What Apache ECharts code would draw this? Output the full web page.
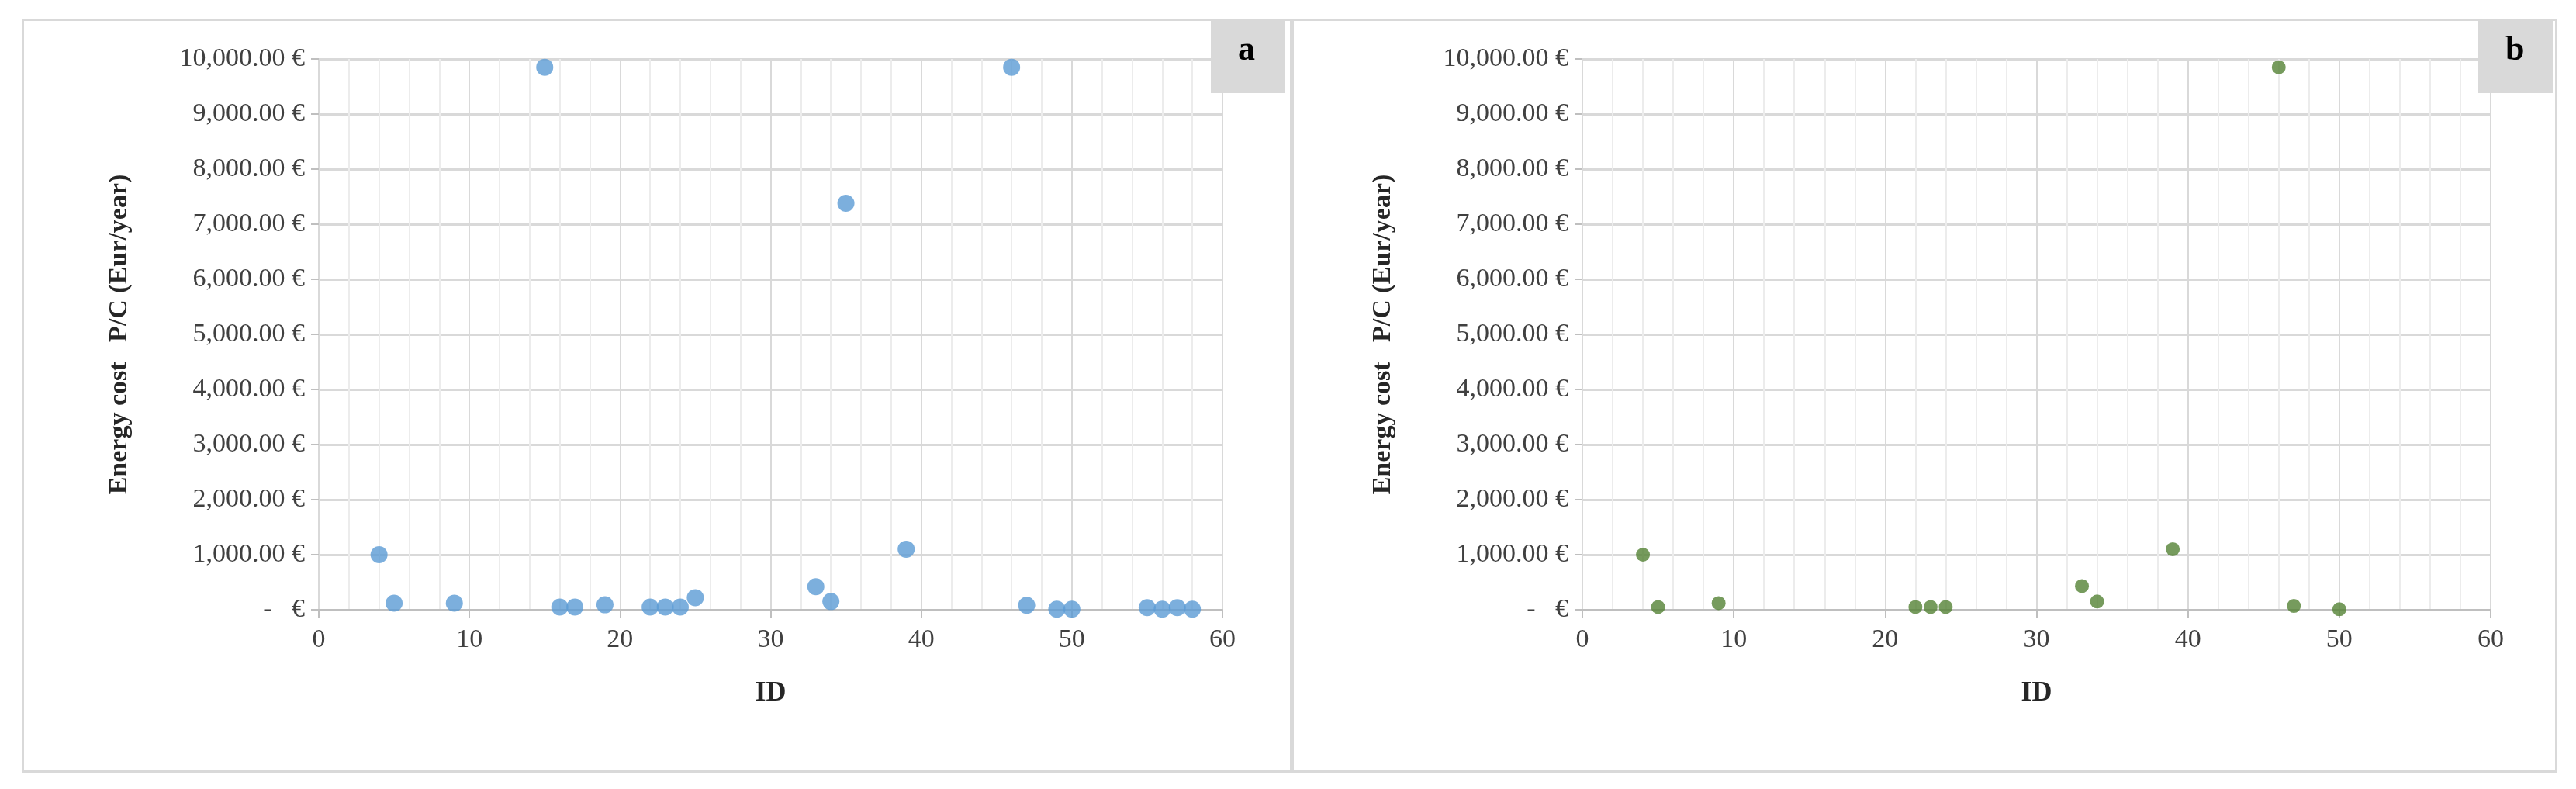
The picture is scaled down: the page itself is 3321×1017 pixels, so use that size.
<!DOCTYPE html>
<html>
<head>
<meta charset="utf-8">
<script src="https://cdn.jsdelivr.net/npm/echarts@6/dist/echarts.min.js"></script>
<style>
  html, body { margin: 0; padding: 0; background: #fff; }
  #chart { width: 3321px; height: 1017px; }
  .frame { position: absolute; border: 3px solid #d9d9d9; }
</style>
</head>
<body>
<div class="frame" style="left:28px;top:24px;width:1632px;height:966px;"></div>
<div class="frame" style="left:1665px;top:24px;width:1626px;height:966px;"></div>
<div id="chart" style="position:absolute;left:0;top:0;"></div>
<script>
// panel a
var idsA = [4, 5, 9, 15, 16, 17, 19, 22, 23, 24, 25, 33, 34, 35, 39, 46, 47, 49, 50, 55, 56, 57, 58];
var costA = [1000, 120, 120, 9850, 50, 50, 90, 50, 50, 50, 220, 420, 150, 7380, 1100, 9850, 80, 10, 10, 40, 10, 40, 10];
// panel b
var idsB = [4, 5, 9, 22, 23, 24, 33, 34, 39, 46, 47, 50];
var costB = [1000, 50, 120, 50, 50, 50, 430, 150, 1100, 9850, 70, 10];
var panelLabels = ['a', 'b'];

var font = '"Liberation Serif", "DejaVu Serif", serif';

function pairs(xs, ys) {
  return xs.map(function (x, i) { return [x, ys[i]]; });
}

function euro(v) {
  if (v === 0) return '-   €';
  return v.toLocaleString('en-US', { minimumFractionDigits: 2, maximumFractionDigits: 2 }) + ' €';
}

function xAxis(idx) {
  return {
    gridIndex: idx, type: 'value', min: 0, max: 60, interval: 10,
    name: 'ID', nameLocation: 'middle', nameGap: 90,
    nameTextStyle: { fontFamily: font, fontWeight: 'bold', fontSize: 36, color: '#262626' },
    axisLine: { onZero: false, lineStyle: { color: '#bfbfbf', width: 2 } },
    axisTick: { show: true, length: 10, lineStyle: { color: '#bfbfbf', width: 2 } },
    axisLabel: { fontFamily: font, fontSize: 34, color: '#404040', margin: 22 },
    splitLine: { show: true, lineStyle: { color: '#d9d9d9', width: 2 } },
    minorTick: { show: false, splitNumber: 5 },
    minorSplitLine: { show: true, lineStyle: { color: '#ececec', width: 2 } }
  };
}

function yAxis(idx) {
  return {
    gridIndex: idx, type: 'value', min: 0, max: 10000, interval: 1000,
    name: 'Energy cost   P/C (Eur/year)', nameLocation: 'middle', nameGap: 240,
    nameTextStyle: { fontFamily: font, fontWeight: 'bold', fontSize: 34, color: '#262626' },
    axisLine: { show: false },
    axisTick: { show: true, length: 10, lineStyle: { color: '#bfbfbf', width: 2 } },
    axisLabel: { fontFamily: font, fontSize: 34, color: '#404040', margin: 18, formatter: euro },
    splitLine: { show: true, lineStyle: { color: '#d9d9d9', width: 3 } }
  };
}

var chart = echarts.init(document.getElementById('chart'));
chart.setOption({
  animation: false,
  backgroundColor: 'transparent',
  grid: [
    { left: 411, top: 76, width: 1165, height: 710 },
    { left: 2040, top: 76, width: 1171, height: 710 }
  ],
  xAxis: [xAxis(0), xAxis(1)],
  yAxis: [yAxis(0), yAxis(1)],
  graphic: [
    { type: 'rect', left: 1561, top: 25, shape: { width: 96, height: 95 }, style: { fill: '#d9d9d9' } },
    { type: 'text', left: 1596, top: 44, style: { text: panelLabels[0], font: 'bold 44px ' + font, fill: '#000' } },
    { type: 'rect', left: 3195, top: 25, shape: { width: 96, height: 95 }, style: { fill: '#d9d9d9' } },
    { type: 'text', left: 3230, top: 44, style: { text: panelLabels[1], font: 'bold 44px ' + font, fill: '#000' } }
  ],
  series: [
    { type: 'scatter', xAxisIndex: 0, yAxisIndex: 0, symbolSize: 22,
      itemStyle: { color: '#5b9bd5' }, data: pairs(idsA, costA) },
    { type: 'scatter', xAxisIndex: 1, yAxisIndex: 1, symbolSize: 18,
      itemStyle: { color: '#548235' }, data: pairs(idsB, costB) }
  ]
});
</script>
</body>
</html>
